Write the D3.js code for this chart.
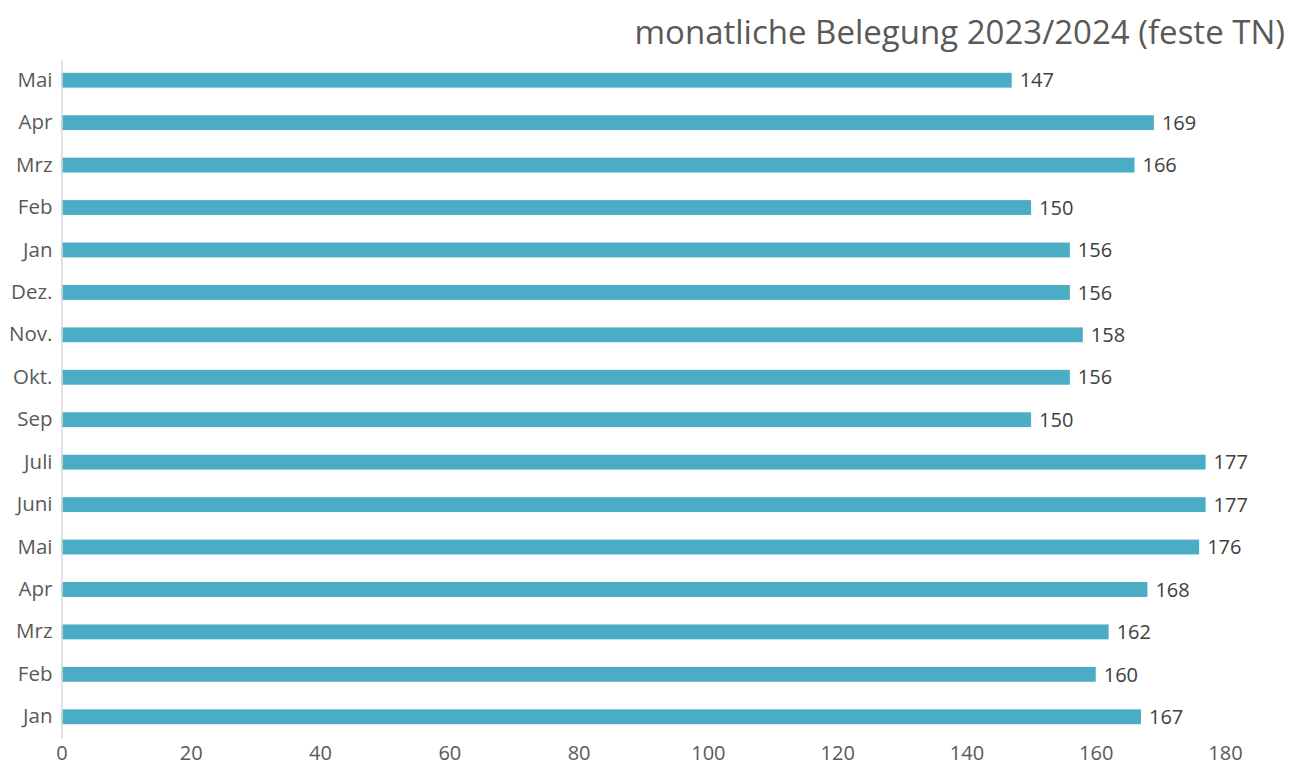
<!DOCTYPE html>
<html>
<head>
<meta charset="utf-8">
<script src="https://cdn.jsdelivr.net/npm/d3@7"></script>
<style>
  body { margin: 0; background: #fff; }
  svg { display: block; font-family: "Open Sans", sans-serif; }
</style>
</head>
<body>
<svg id="chart" width="1292" height="765"></svg>
<script>
const title = 'monatliche Belegung 2023/2024 (feste TN)'
// bottom to top, as in the picture
const months = ['Jan', 'Feb', 'Mrz', 'Apr', 'Mai', 'Juni', 'Juli', 'Sep', 'Okt.', 'Nov.', 'Dez.', 'Jan', 'Feb', 'Mrz', 'Apr', 'Mai']
const values = [167, 160, 162, 168, 176, 177, 177, 150, 156, 158, 156, 156, 150, 166, 169, 147]
const xTicks = [0, 20, 40, 60, 80, 100, 120, 140, 160, 180]

const svg = d3.select('#chart')
const margin = { left: 61.5, right: 1225, top: 59, bottom: 738 }

const rows = months.map((m, i) => ({ id: i, month: m, value: values[i] }))

const x = d3.scaleLinear().domain([0, 180]).range([margin.left, margin.right])
const y = d3.scaleBand()
  .domain(rows.map((d) => d.id).reverse())
  .range([margin.top, margin.bottom])
  .paddingInner(0.65)
  .paddingOuter(0.325)

// title
svg.append('text')
  .attr('x', 1285)
  .attr('y', 44)
  .attr('text-anchor', 'end')
  .attr('fill', '#595959')
  .style('font-size', '33px')
  .text(title)

// bars
svg.append('g')
  .selectAll('rect')
  .data(rows)
  .join('rect')
  .attr('x', x(0))
  .attr('y', (d) => y(d.id))
  .attr('width', (d) => x(d.value) - x(0))
  .attr('height', y.bandwidth())
  .attr('fill', '#4BACC6')

// value labels
svg.append('g')
  .selectAll('text')
  .data(rows)
  .join('text')
  .attr('x', (d) => x(d.value) + 8)
  .attr('y', (d) => y(d.id) + y.bandwidth() / 2)
  .attr('dy', '0.36em')
  .attr('fill', '#404040')
  .style('font-size', '20px')
  .text((d) => d.value)

// y axis: light line with category labels
const yAxis = svg.append('g')
  .attr('transform', `translate(${margin.left},0)`)
  .call(d3.axisLeft(y).tickSize(0).tickPadding(9).tickFormat((id) => months[id]))
yAxis.select('.domain').attr('stroke', '#d9d9d9').attr('stroke-width', 1.5)
yAxis.selectAll('text')
  .attr('fill', '#595959')
  .style('font-size', '20.5px')
  .style('font-family', '"Open Sans", sans-serif')

// x axis: tick labels only
const xAxis = svg.append('g')
  .attr('transform', `translate(0,${margin.bottom})`)
  .call(d3.axisBottom(x).tickValues(xTicks).tickSize(0).tickPadding(8))
xAxis.select('.domain').remove()
xAxis.selectAll('text')
  .attr('fill', '#595959')
  .style('font-size', '20px')
  .style('font-family', '"Open Sans", sans-serif')
</script>
</body>
</html>
